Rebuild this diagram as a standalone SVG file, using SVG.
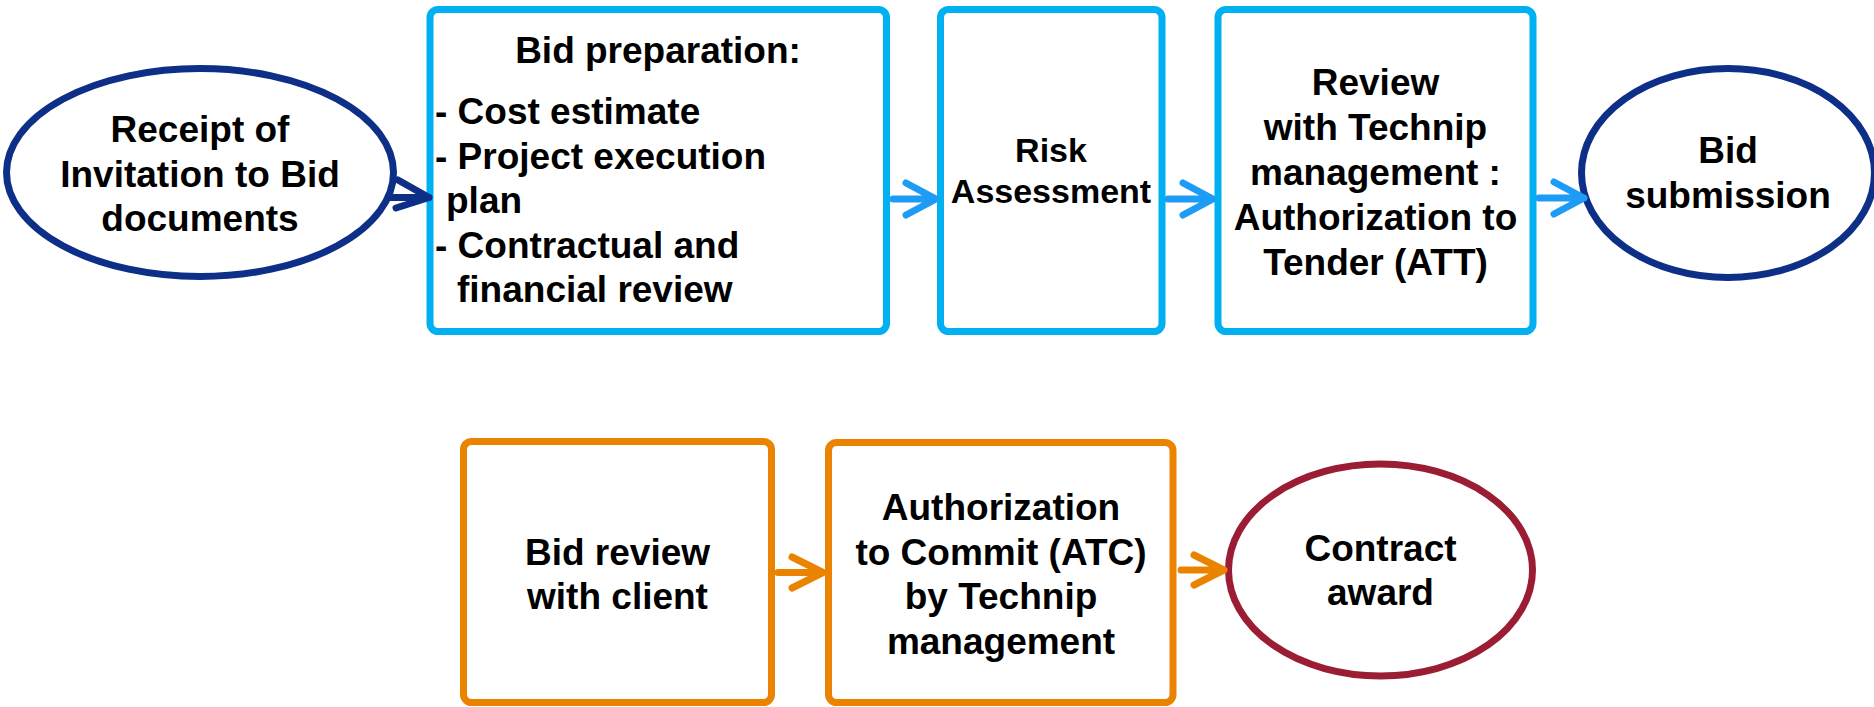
<svg xmlns="http://www.w3.org/2000/svg" width="1874" height="707" viewBox="0 0 1874 707">
<style>
text{font-family:"Liberation Sans",Arial,sans-serif;font-weight:bold;font-size:37px;fill:#000}
.c{text-anchor:middle}
.navy{fill:#fff;stroke:#0D2F87;stroke-width:7}
.cyan{fill:#fff;stroke:#00B0F0;stroke-width:7}
.orange{fill:#fff;stroke:#E98300;stroke-width:7}
.maroon{fill:#fff;stroke:#9B1D34;stroke-width:7}
.arr{fill:none;stroke-width:7;stroke-linecap:round;stroke-linejoin:round}
</style>
<rect width="1874" height="707" fill="#fff"/>
<g id="n1">
<ellipse class="navy" cx="200" cy="172.5" rx="193.5" ry="104"/>
<text class="c" x="200" y="142">Receipt of</text>
<text class="c" x="200" y="187">Invitation to Bid</text>
<text class="c" x="200" y="231">documents</text>
</g>
<g id="n2">
<rect class="cyan" x="430" y="9.5" width="456.5" height="322" rx="8"/>
<text class="c" x="658" y="63">Bid preparation:</text>
<text x="435" y="124">- Cost estimate</text>
<text x="435" y="169">- Project execution</text>
<text x="446" y="213">plan</text>
<text x="435" y="258">- Contractual and</text>
<text x="457" y="302">financial review</text>
</g>
<g id="n3">
<rect class="cyan" x="940.5" y="9.5" width="221.5" height="322" rx="8"/>
<text class="c" x="1051" y="162" style="font-size:34px">Risk</text>
<text class="c" x="1051" y="203" style="font-size:34px">Assessment</text>
</g>
<g id="n4">
<rect class="cyan" x="1218" y="9.5" width="315" height="322" rx="8"/>
<text class="c" x="1375.5" y="95">Review</text>
<text class="c" x="1375.5" y="140">with Technip</text>
<text class="c" x="1375.5" y="184.5">management :</text>
<text class="c" x="1375.5" y="230">Authorization to</text>
<text class="c" x="1375.5" y="275">Tender (ATT)</text>
</g>
<g id="n5">
<ellipse class="navy" cx="1728" cy="173" rx="146.5" ry="104.5"/>
<text class="c" x="1728" y="163">Bid</text>
<text class="c" x="1728" y="208">submission</text>
</g>
<g id="n6">
<rect class="orange" x="463.5" y="441.5" width="308" height="261" rx="8"/>
<text class="c" x="617.5" y="565">Bid review</text>
<text class="c" x="617.5" y="609">with client</text>
</g>
<g id="n7">
<rect class="orange" x="828.5" y="442.5" width="344.5" height="260" rx="8"/>
<text class="c" x="1001" y="520">Authorization</text>
<text class="c" x="1001" y="565">to Commit (ATC)</text>
<text class="c" x="1001" y="609">by Technip</text>
<text class="c" x="1001" y="653.5">management</text>
</g>
<g id="n8">
<ellipse class="maroon" cx="1380.5" cy="570" rx="152" ry="106"/>
<text class="c" x="1380.5" y="560.5">Contract</text>
<text class="c" x="1380.5" y="605">award</text>
</g>
<g id="connectors">
<path class="arr" stroke="#0D2F87" stroke-width="6" d="M390 197.5H429M398 180L429 197.5L396 208"/>
<path class="arr" stroke="#1E9CF5" d="M893 199H936M906 183L936 199L906 215"/>
<path class="arr" stroke="#1E9CF5" d="M1168 199H1213M1183 183L1213 199L1183 215"/>
<path class="arr" stroke="#1E9CF5" d="M1539 198H1584M1554 182L1584 198L1554 214"/>
<path class="arr" stroke="#E98300" d="M778 572.5H823M792 557L823 572.5L792 588"/>
<path class="arr" stroke="#E98300" d="M1181 570H1224M1194 555L1224 570L1194 585"/>
</g>
</svg>
